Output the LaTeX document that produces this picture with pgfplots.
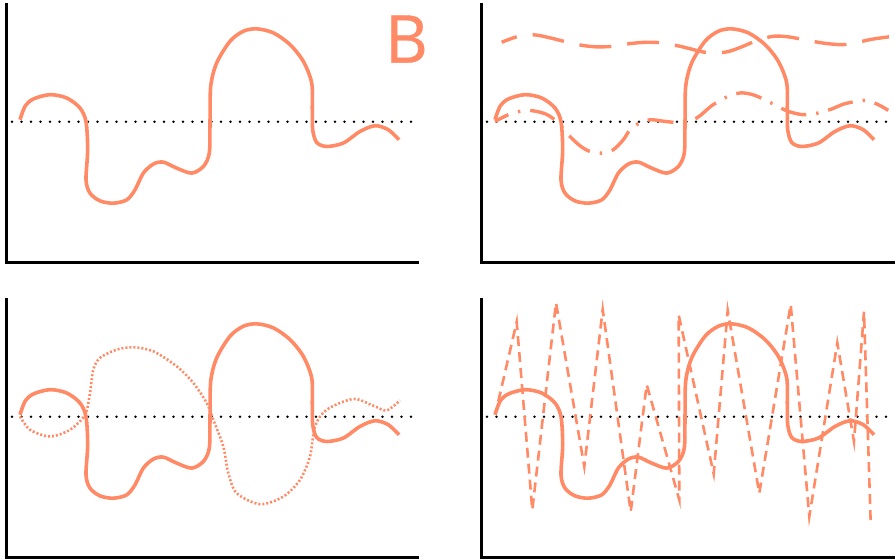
\documentclass[border=0pt]{standalone}
\usepackage{fontspec}
\setmainfont{Open Sans}
\usepackage{pgfplots}
\usepackage{pgfplotstable}
\pgfplotsset{compat=1.18}
\definecolor{salmon}{HTML}{FF8A65}

% x in pixels from the panel's left, y above the dotted baseline
\pgfplotstableread{
x y
20 2
25 15.3
33.3 22.7
50 27
66.7 23.7
80 13.7
86 0
87.7 -28
86 -58
90 -71.3
100 -79
113.3 -81.3
126.7 -78
135 -68
143.3 -51.3
153.3 -42.3
163.3 -40.3
176.7 -46.3
191.7 -51.3
203.3 -44.7
209.3 -31.3
210 -1.3
210.7 35.3
216.7 58.7
230 80.3
243.3 90.3
256.7 92.7
273.3 88.7
290 77
303.3 60.3
311.7 38.7
312.3 12
312.7 -8
316.7 -20.7
326.7 -24.7
343.3 -21.3
360 -9.7
375 -4
388.3 -8
399 -18
}\solidcurve

\pgfplotstableread{
x y
26.7 79.3
41.7 84.7
59 86.7
75 83.7
91 79.7
106.7 76.3
121.7 74.7
138.3 75.3
155 78
171.7 79.3
186.7 78.7
205 75.3
233.3 68.7
251.7 69.7
266.7 74.7
281.7 81
298.3 85.3
313.3 84.7
328.3 82
346.7 78.7
363.3 77
376.7 77.7
395 82
414 84.7
}\dashedcurve

\pgfplotstableread{
x y
20 0.3
33.3 7
44.3 10.3
55 11.3
70 8
81.7 0.3
95 -14.7
105 -24
115 -29.7
127.7 -31.3
138.3 -28
148.3 -18
155 -8
163.3 -2
175 2
190 0.3
205 -0.7
221.7 3.7
236.7 16
251.7 24.7
265 28.7
276.7 27.3
288.3 22.7
300 16.7
313.3 10.3
328.3 7
343.3 8.7
356.7 12.7
370 18
390 21.3
403.3 17
413.3 11.3
}\dashdotcurve

\pgfplotstableread{
x y
20 0.3
30 -13
50 -19.7
70 -13
85 2
90 23.7
93.3 47
100 58.7
116.7 67
133.3 69.3
153.3 65.3
176.7 50.3
193.3 33.7
206.7 13.7
213.3 -3
223.3 -29.7
228.3 -56.3
236.7 -76.3
260 -87.3
283.3 -79.7
300 -63
310 -39.7
315 -9.7
326.7 7
353.3 17.7
373.3 11
386.7 6.3
400 16.3
}\dottedcurve

\pgfplotstableread{
x y
23.3 15.3
41.7 94.7
57.3 -93
81 113.7
109.3 -49.7
127.7 107
155.7 -94.7
171.7 32
204.3 -83
203.7 101.3
238.7 -57
252.7 106
284.3 -76.3
315.7 112
334.3 -99.7
362.3 73.7
379 -24.7
389 104.7
395.7 -106.3
}\zigzag

\pgfplotsset{
  panel/.style={
    scale only axis, anchor=south west,
    height=128.5pt, xmin=6, ymin=-140, ymax=117,
    axis x line=bottom, axis y line=left,
    axis line style={black, line width=1.5pt, -, line cap=rect},
    xtick=\empty, ytick=\empty, clip=false,
  },
  solid line/.style={salmon, line width=1.8pt, smooth, no markers},
  baseline/.style={black, line width=1.4pt, line cap=round, dash pattern=on 0pt off 4.75pt, no markers},
}

\begin{document}
\begin{tikzpicture}
\path[use as bounding box] (0,0) rectangle (447.5pt,279.5pt);

\begin{axis}[panel, at={(3pt,148.5pt)}, xmax=417, width=205.5pt]
\addplot[baseline] coordinates {(12,0) (413,0)};
\addplot[solid line] table {\solidcurve};
\end{axis}

\begin{axis}[panel, at={(240.5pt,148.5pt)}, xmax=420, width=207pt]
\addplot[baseline] coordinates {(12,0) (420,0)};
\addplot[salmon, line width=1.7pt, smooth, no markers, dash pattern=on 16pt off 8pt, dash phase=8pt] table {\dashedcurve};
\addplot[salmon, line width=1.7pt, smooth, no markers, dash pattern=on 13pt off 5pt on 1.2pt off 5pt, dash phase=5.5pt] table {\dashdotcurve};
\addplot[solid line] table {\solidcurve};
\end{axis}

\begin{axis}[panel, at={(3pt,1pt)}, xmax=417, width=205.5pt]
\addplot[baseline] coordinates {(12,0) (413,0)};
\addplot[salmon, line width=1.3pt, smooth, no markers, dash pattern=on 1pt off 1pt] table {\dottedcurve};
\addplot[solid line] table {\solidcurve};
\end{axis}

\begin{axis}[panel, at={(240.5pt,1pt)}, xmax=420, width=207pt]
\addplot[baseline] coordinates {(12,0) (420,0)};
\addplot[salmon, line width=1.3pt, sharp plot, no markers, dash pattern=on 5pt off 3pt] table {\zigzag};
\addplot[solid line] table {\solidcurve};
\end{axis}

\node[salmon, inner sep=0pt, font=\addfontfeatures{FakeBold=0.6}\fontsize{33}{33}\selectfont] at (203.25pt,260pt) {B};
\end{tikzpicture}
\end{document}
